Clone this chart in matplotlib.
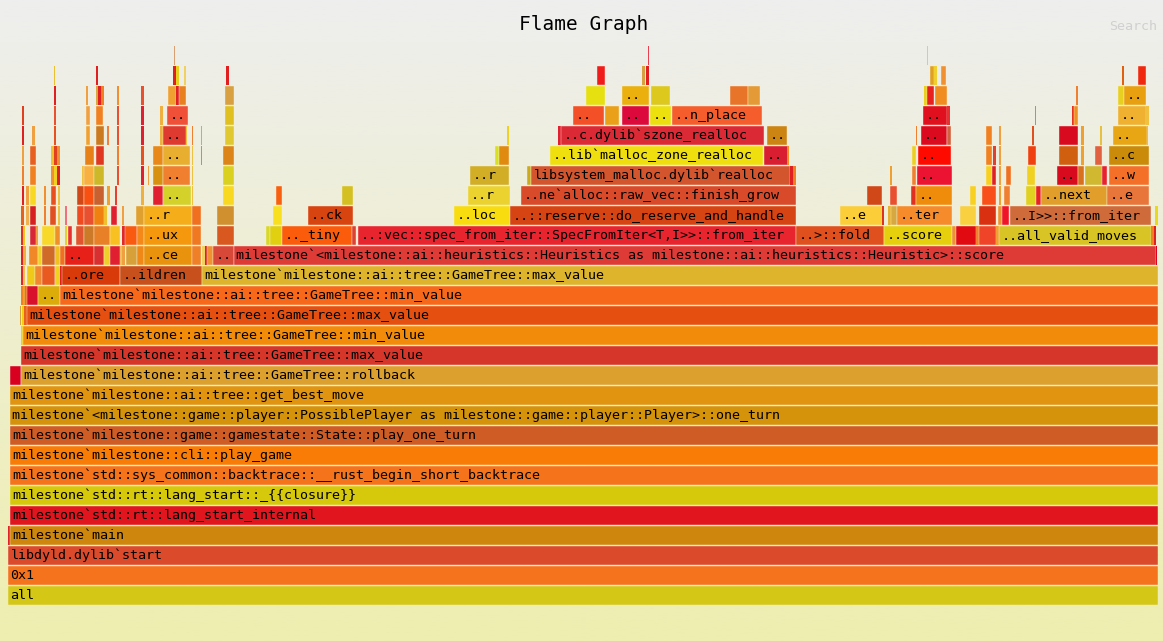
import matplotlib
matplotlib.use("Agg")
import matplotlib.pyplot as plt
import numpy as np

W, H = 1163, 641
TOTAL = 1150      # samples under "all"
N_DEPTH = 28

# one list per stack depth: (first sample, sample count, label)
depth_00 = [(0, 1150, "all")]
depth_01 = [(0, 1150, "0x1")]
depth_02 = [(0, 1150, "libdyld.dylib`start")]
depth_03 = [(0, 2, ""), (2, 1148, "milestone`main")]
depth_04 = [(2, 1148, "milestone`std::rt::lang_start_internal")]
depth_05 = [(2, 1148, "milestone`std::rt::lang_start::_{{closure}}")]
depth_06 = [(2, 1148, "milestone`std::sys_common::backtrace::__rust_begin_short_backtrace")]
depth_07 = [(2, 1148, "milestone`milestone::cli::play_game")]
depth_08 = [(2, 1148, "milestone`milestone::game::gamestate::State::play_one_turn")]
depth_09 = [(2, 1148, "milestone`<milestone::game::player::PossiblePlayer as milestone::game::player::Player>::one_turn")]
depth_10 = [(2, 1148, "milestone`milestone::ai::tree::get_best_move")]
depth_11 = [(2, 11, ""), (13, 1137, "milestone`milestone::ai::tree::GameTree::rollback")]
depth_12 = [(13, 1137, "milestone`milestone::ai::tree::GameTree::max_value")]
depth_13 = [(13, 2, ""), (15, 1135, "milestone`milestone::ai::tree::GameTree::min_value")]
depth_14 = [(12, 1, ""), (14, 2, ""), (16, 3, ""),
            (19, 1131, "milestone`milestone::ai::tree::GameTree::max_value")]
depth_15 = [(13, 2, ""), (15, 2, ""), (17, 2, ""), (19, 11, ""), (30, 22, ".."),
            (52, 1098, "milestone`milestone::ai::tree::GameTree::min_value")]
depth_16 = [(13, 2, ""), (15, 2, ""), (19, 8, ""), (27, 7, ""), (34, 13, ""), (47, 5, ""),
            (52, 2, ""), (54, 58, "..ore"), (112, 82, "..ildren"),
            (194, 956, "milestone`milestone::ai::tree::GameTree::max_value")]
depth_17 = [(13, 2, ""), (15, 3, ""), (21, 9, ""), (30, 4, ""), (34, 13, ""), (47, 5, ""),
            (52, 5, ""), (57, 29, ".."), (86, 10, ""), (96, 6, ""), (102, 10, ""), (112, 2, ""),
            (114, 3, ""), (118, 11, ""), (129, 7, ""), (136, 48, "..ce"), (184, 9, ""),
            (194, 3, ""), (197, 2, ""), (199, 6, ""), (205, 21, ".."),
            (226, 922, "milestone`<milestone::ai::heuristics::Heuristics as milestone::ai::heuristics::Heuristic>::score"),
            (1148, 1, "")]
depth_18 = [(13, 2, ""), (15, 2, ""), (22, 6, ""), (28, 2, ""), (34, 13, ""), (47, 5, ""),
            (57, 2, ""), (60, 4, ""), (68, 8, ""), (76, 10, ""), (86, 16, ""), (102, 10, ""),
            (114, 3, ""), (117, 12, ""), (129, 7, ""), (136, 48, "..ux"), (184, 9, ""),
            (209, 17, ""), (258, 4, ""), (262, 12, ""), (274, 70, ".._tiny"), (344, 4, ""),
            (350, 438, "..:vec::spec_from_iter::SpecFromIter<T,I>>::from_iter"),
            (788, 88, "..>::fold"), (876, 68, "..score"), (944, 4, ""), (948, 20, ""),
            (968, 3, ""), (971, 17, ""), (988, 3, ""), (991, 152, "..all_valid_moves"),
            (1143, 3, ""), (1146, 2, "")]
depth_19 = [(13, 3, ""), (18, 3, ""), (22, 6, ""), (36, 2, ""), (42, 6, ""), (50, 2, ""),
            (57, 2, ""), (69, 7, ""), (76, 10, ""), (86, 10, ""), (96, 3, ""), (103, 6, ""),
            (114, 2, ""), (128, 8, ""), (136, 48, "..r"), (184, 9, ""), (209, 17, ""),
            (265, 9, ""), (300, 45, "..ck"), (446, 56, "..loc"),
            (502, 286, "..::reserve::do_reserve_and_handle"), (832, 42, "..e"), (874, 2, ""),
            (880, 3, ""), (883, 6, ""), (889, 55, "..ter"), (952, 16, ""), (971, 17, ""),
            (990, 4, ""), (994, 7, ""), (1002, 141, "..I>>::from_iter"), (1147, 3, "")]
depth_20 = [(14, 2, ""), (18, 3, ""), (22, 6, ""), (36, 2, ""), (43, 5, ""), (50, 2, ""),
            (69, 7, ""), (76, 10, ""), (86, 10, ""), (99, 3, ""), (107, 2, ""), (133, 3, ""),
            (145, 10, ""), (155, 28, ".."), (184, 1, ""), (215, 11, ""), (268, 6, ""),
            (334, 11, ""), (460, 42, "..r"), (513, 275, "..ne`alloc::raw_vec::finish_grow"),
            (859, 15, ""), (882, 7, ""), (903, 5, ""), (908, 36, ".."), (962, 6, ""),
            (974, 14, ""), (991, 2, ""), (996, 6, ""), (1018, 10, ""), (1028, 5, ""),
            (1033, 66, "..next"), (1099, 42, "..e")]
depth_21 = [(14, 2, ""), (22, 6, ""), (43, 3, ""), (46, 3, ""), (49, 3, ""), (74, 2, ""),
            (76, 10, ""), (86, 10, ""), (109, 2, ""), (133, 3, ""), (140, 1, ""), (145, 10, ""),
            (155, 27, ".."), (184, 1, ""), (215, 11, ""), (462, 39, "..r"), (519, 4, ""),
            (523, 259, "libsystem_malloc.dylib`realloc"), (782, 3, ""), (785, 3, ""),
            (882, 2, ""), (904, 4, ""), (909, 35, ".."), (978, 6, ""), (984, 4, ""),
            (991, 2, ""), (998, 5, ""), (1019, 8, ""), (1049, 21, ".."), (1070, 6, ""),
            (1077, 18, ""), (1094, 5, ""), (1101, 40, "..w")]
depth_22 = [(14, 2, ""), (22, 6, ""), (43, 3, ""), (46, 3, ""), (49, 3, ""), (77, 9, ""),
            (88, 8, ""), (109, 2, ""), (133, 3, ""), (145, 10, ""), (155, 27, ".."),
            (184, 1, ""), (193, 1, ""), (215, 11, ""), (487, 4, ""), (491, 10, ""),
            (542, 213, "..lib`malloc_zone_realloc"), (756, 24, ".."), (779, 2, ""),
            (904, 4, ""), (910, 33, ".."), (978, 6, ""), (985, 3, ""), (991, 2, ""),
            (1020, 8, ""), (1051, 19, ""), (1073, 3, ""), (1087, 7, ""), (1101, 40, "..c")]
depth_23 = [(14, 2, ""), (24, 3, ""), (46, 2, ""), (78, 4, ""), (88, 8, ""), (99, 2, ""),
            (109, 2, ""), (133, 3, ""), (152, 3, ""), (155, 23, ".."), (178, 1, ""),
            (184, 1, ""), (193, 1, ""), (217, 9, ""), (499, 2, ""), (550, 3, ""),
            (553, 203, "..c.dylib`szone_realloc"), (759, 20, ".."), (908, 1, ""),
            (913, 26, ".."), (939, 4, ""), (978, 6, ""), (991, 2, ""), (1024, 2, ""),
            (1051, 19, ""), (1073, 3, ""), (1092, 2, ""), (1105, 34, ".."), (1139, 1, "")]
depth_24 = [(14, 2, ""), (46, 2, ""), (78, 4, ""), (88, 7, ""), (109, 2, ""), (133, 3, ""),
            (152, 3, ""), (159, 21, ".."), (217, 9, ""), (565, 31, ".."), (597, 14, ""),
            (614, 27, ".."), (642, 21, ".."), (664, 90, "..n_place"), (915, 24, ".."),
            (939, 3, ""), (1027, 1, ""), (1064, 2, ""), (1066, 4, ""), (1110, 28, ".."),
            (1138, 3, "")]
depth_25 = [(46, 2, ""), (78, 2, ""), (88, 2, ""), (90, 3, ""), (93, 3, ""), (109, 2, ""),
            (133, 3, ""), (160, 8, ""), (168, 3, ""), (171, 7, ""), (217, 9, ""), (578, 19, ""),
            (614, 27, ".."), (643, 19, ""), (722, 18, ""), (740, 12, ""), (916, 3, ""),
            (919, 7, ""), (927, 12, ""), (1068, 2, ""), (1110, 6, ""), (1116, 22, "..")]
depth_26 = [(46, 1, ""), (88, 2, ""), (165, 3, ""), (168, 3, ""), (176, 2, ""), (218, 3, ""),
            (589, 8, ""), (634, 3, ""), (638, 3, ""), (922, 4, ""), (926, 3, ""), (933, 5, ""),
            (1114, 2, ""), (1130, 8, "")]
depth_27 = [(166, 1, ""), (640, 1, ""), (919, 1, "")]

stacks = [depth_00, depth_01, depth_02, depth_03, depth_04, depth_05, depth_06, depth_07,
          depth_08, depth_09, depth_10, depth_11, depth_12, depth_13, depth_14, depth_15,
          depth_16, depth_17, depth_18, depth_19, depth_20, depth_21, depth_22, depth_23,
          depth_24, depth_25, depth_26, depth_27]

# frame colours ("hot" palette), same order as the frames above
stack_colors = [
    ["#d4c716"],
    ["#f5731c"],
    ["#dc4a2c"],
    ["#e0202a", "#cf860c"],
    ["#e0151e"],
    ["#d6c90c"],
    ["#f5731a"],
    ["#f97c06"],
    ["#cf5c25"],
    ["#d5930c"],
    ["#e09410"],
    ["#d8001e", "#dca02e"],
    ["#d6362a"],
    ["#f0d020", "#f38b0a"],
    ["#d8a040", "#f0d010", "#e8601a", "#e55010"],
    ["#f08020", "#e8a030", "#f06a20", "#d8102c", "#dcac0a", "#f7681a"],
    ["#e02828", "#f0c050", "#f0c818", "#f08830", "#e85a20", "#f0d020", "#e02020",
     "#d83a0a", "#c8501c", "#ddb42c"],
    ["#e02020", "#f0b040", "#f08828", "#f0d020", "#d06a28", "#f0c020", "#f07020",
     "#e8201a", "#d83030", "#f0d028", "#e02030", "#f0c060", "#f0a040", "#d8a038",
     "#f08818", "#e8920e", "#f08028", "#f0d060", "#e02020", "#f09030", "#d84838",
     "#de3a36", "#e00020"],
    ["#e03020", "#e8c820", "#d82838", "#f0a040", "#f8d828", "#f09028", "#e8d030",
     "#e83030", "#e05530", "#cc7a28", "#e88028", "#f8c020", "#e02828", "#fa5a10",
     "#f48818", "#f5980e", "#f07820", "#d85820", "#d8d828", "#e0d010", "#fb5c0c",
     "#e04030", "#e8242e", "#e0501e", "#e6d00e", "#f09030", "#e00a10", "#f08030",
     "#f04428", "#f0a030", "#d8c424", "#f08020", "#e02020"],
    ["#e86020", "#f0b050", "#d82020", "#f08030", "#e05020", "#f0c040", "#f07080",
     "#f04a20", "#e85030", "#f08010", "#f0c030", "#e02030", "#f0a040", "#e0a030",
     "#f5ae1a", "#f07020", "#d09030", "#f8e020", "#d84410", "#f8dc10", "#d64414",
     "#fbcd38", "#e03020", "#e8b030", "#d8a840", "#f68b2c", "#f8d040", "#d83010",
     "#f09030", "#f01428", "#cf6a3a", "#e8d820"],
    ["#e02020", "#f0a040", "#f8d820", "#f09030", "#e85020", "#f0c040", "#d04818",
     "#f85010", "#c86030", "#f0a030", "#e84030", "#f0b040", "#e02030", "#d4d22a",
     "#f0c040", "#f8d820", "#f86010", "#d4c020", "#ebd22e", "#d84a2a", "#d04818",
     "#e85030", "#e03020", "#f08c0c", "#f8d020", "#f85018", "#f0a030", "#f08030",
     "#e0d020", "#e82020", "#e29e2a", "#e8763a"],
    ["#f08030", "#f08020", "#f09030", "#f0d020", "#e02020", "#f0c040", "#f8b040",
     "#ccb828", "#e85030", "#e02030", "#f0a040", "#d89010", "#f08030", "#f0c040",
     "#dad020", "#d2ae26", "#ccaa20", "#d3552e", "#e02020", "#f08020", "#f0a030",
     "#f08030", "#ec1232", "#f8d020", "#e02020", "#f0a040", "#f07020", "#f0d020",
     "#d80a1e", "#d87020", "#d0b830", "#e82030", "#f47028"],
    ["#f0a040", "#e86020", "#f0c030", "#e04020", "#f09030", "#e88018", "#e03820",
     "#f08030", "#e85020", "#e88818", "#e8ae30", "#f0c040", "#f08040", "#dc8418",
     "#d8e020", "#e08a10", "#efdf0e", "#da1e32", "#f09020", "#ecd020", "#ff0a00",
     "#f08020", "#e04030", "#f0a040", "#f04010", "#d06010", "#f0a030", "#e06040",
     "#ca8a0a"],
    ["#e02020", "#f0a040", "#e85020", "#f0a030", "#cc7a20", "#f08040", "#e85030",
     "#e02030", "#f0b040", "#de3a30", "#f0c040", "#f08030", "#f0a040", "#e0c830",
     "#f0d020", "#e02030", "#db2a36", "#cc8412", "#f08030", "#dc0a1e", "#d06040",
     "#f08020", "#f0a040", "#e05020", "#d80a20", "#f0a030", "#e8c040", "#e9a614",
     "#f0c030"],
    ["#e04020", "#e85030", "#f0a040", "#f08020", "#e85030", "#e02030", "#f0b040",
     "#f05038", "#e0c020", "#f45028", "#eaa018", "#dc0a3c", "#ece00e", "#f55e2c",
     "#e0101e", "#e83030", "#f08030", "#e83020", "#f09020", "#f0b030", "#f0c040"],
    ["#e02020", "#f0a040", "#d8a840", "#e02020", "#f08020", "#f09030", "#e85030",
     "#f0a030", "#e02020", "#e88020", "#d8a040", "#e6e010", "#ebb00e", "#ddc81e",
     "#e8742a", "#e49a36", "#ecd020", "#e82020", "#f08c20", "#f08030", "#e8d020",
     "#e8a010"],
    ["#e8c030", "#e02020", "#e02020", "#e8d020", "#f0d060", "#e02020", "#f01c1c",
     "#d8a040", "#e02020", "#e0a020", "#f0d030", "#f09030", "#e06010", "#f02810"],
    ["#d8a070", "#e84050", "#e8e000"],
]

MONO = "DejaVu Sans Mono"

fig = plt.figure(figsize=(W / 100, H / 100), dpi=100)

# background gradient, grey at the top to pale yellow at the bottom
bg = fig.add_axes([0, 0, 1, 1])
top = np.array([0xee, 0xee, 0xee]) / 255.0
bottom = np.array([0xee, 0xee, 0xb0]) / 255.0
t = np.linspace(0, 1, 256)[:, None, None]
bg.imshow(top + (bottom - top) * t, aspect="auto", extent=[0, 1, 0, 1])
bg.axis("off")

# flame axes: depth 0 at the bottom, 20 px per depth
ax = fig.add_axes([7.5 / W, 36 / H, TOTAL / W, N_DEPTH * 20 / H])
ax.set_xlim(0, TOTAL)
ax.set_ylim(0, N_DEPTH)
ax.axis("off")
ax.patch.set_alpha(0)

for depth, (frames, colors) in enumerate(zip(stacks, stack_colors)):
    assert len(frames) == len(colors), depth
    starts = [f[0] for f in frames]
    counts = [f[1] for f in frames]
    # no separator line on the very thin frames, it would wash them out
    widths = [0.3 if c > 3 else 0 for c in counts]
    ax.barh(depth, counts, left=starts, height=0.95, align="edge",
            color=colors, edgecolor="#f4f0dc", linewidth=widths)
    for start, count, label in frames:
        if label:
            ax.text(start + 3, depth + 0.29, label, ha="left", va="baseline",
                    fontsize=9.6, family=MONO, color="black")

fig.text(584 / W, 1 - 30 / H, "Flame Graph", ha="center", va="baseline",
         fontsize=14, family=MONO, color="black")
fig.text(1157 / W, 1 - 30 / H, "Search", ha="right", va="baseline",
         fontsize=9.6, family=MONO, color="#d0d0d0")

fig.savefig("out.png", dpi=100)
